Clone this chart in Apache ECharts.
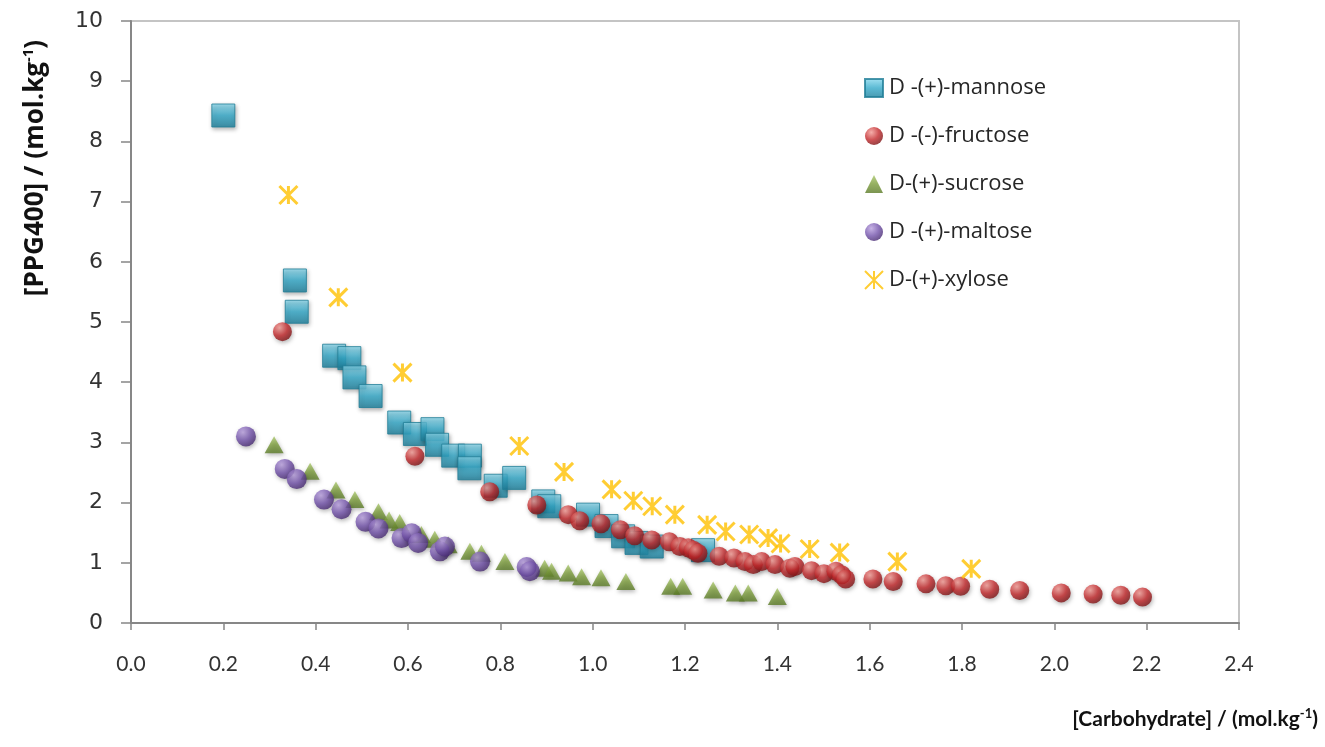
<!DOCTYPE html>
<html>
<head>
<meta charset="utf-8">
<script src="https://cdn.jsdelivr.net/npm/echarts@6/dist/echarts.min.js"></script>
<style>
  html, body { margin: 0; padding: 0; background: #fff; }
  #chart { width: 1325px; height: 747px; }
</style>
</head>
<body>
<div id="chart"></div>
<script>
// values
var seriesNames = ['D -(+)-mannose', 'D -(-)-fructose', 'D-(+)-sucrose', 'D -(+)-maltose', 'D-(+)-xylose'];

var mannoseX = [0.200, 0.355, 0.359, 0.440, 0.473, 0.484, 0.519, 0.581, 0.615, 0.653, 0.663, 0.698, 0.734, 0.733, 0.790, 0.830, 0.893, 0.906, 0.990, 1.030, 1.066, 1.095, 1.128, 1.239];
var mannoseY = [8.43, 5.69, 5.17, 4.44, 4.40, 4.08, 3.77, 3.33, 3.14, 3.22, 2.96, 2.78, 2.78, 2.57, 2.28, 2.41, 2.02, 1.94, 1.80, 1.61, 1.44, 1.33, 1.27, 1.21];

var fructoseX = [0.328, 0.615, 0.777, 0.879, 0.947, 0.972, 1.018, 1.060, 1.091, 1.128, 1.166, 1.189, 1.207, 1.218, 1.228, 1.274, 1.306, 1.330, 1.348, 1.366, 1.395, 1.427, 1.438, 1.474, 1.501, 1.527, 1.539, 1.548, 1.607, 1.651, 1.722, 1.765, 1.797, 1.860, 1.925, 2.015, 2.084, 2.144, 2.191];
var fructoseY = [4.84, 2.77, 2.18, 1.96, 1.80, 1.70, 1.65, 1.55, 1.45, 1.38, 1.35, 1.27, 1.25, 1.21, 1.16, 1.11, 1.08, 1.02, 0.97, 1.02, 0.97, 0.91, 0.94, 0.87, 0.82, 0.86, 0.80, 0.73, 0.73, 0.69, 0.65, 0.62, 0.61, 0.56, 0.54, 0.50, 0.48, 0.46, 0.43];

var sucroseX = [0.310, 0.388, 0.444, 0.485, 0.536, 0.559, 0.582, 0.629, 0.658, 0.687, 0.734, 0.759, 0.810, 0.896, 0.911, 0.947, 0.976, 1.018, 1.072, 1.169, 1.195, 1.261, 1.309, 1.337, 1.400];
var sucroseY = [2.96, 2.52, 2.21, 2.05, 1.85, 1.71, 1.67, 1.47, 1.39, 1.30, 1.19, 1.16, 1.02, 0.91, 0.86, 0.83, 0.77, 0.75, 0.69, 0.61, 0.61, 0.55, 0.50, 0.50, 0.44];

var maltoseX = [0.249, 0.333, 0.359, 0.418, 0.456, 0.508, 0.536, 0.586, 0.608, 0.622, 0.669, 0.680, 0.756, 0.857, 0.864];
var maltoseY = [3.10, 2.56, 2.39, 2.05, 1.89, 1.68, 1.57, 1.41, 1.49, 1.33, 1.19, 1.27, 1.02, 0.93, 0.86];

var xyloseX = [0.341, 0.449, 0.588, 0.841, 0.938, 1.041, 1.088, 1.129, 1.178, 1.248, 1.288, 1.339, 1.380, 1.407, 1.470, 1.535, 1.660, 1.820];
var xyloseY = [7.11, 5.41, 4.16, 2.94, 2.51, 2.22, 2.03, 1.94, 1.80, 1.63, 1.52, 1.47, 1.41, 1.32, 1.23, 1.17, 1.02, 0.90];

var xTicks = ['0.0', '0.2', '0.4', '0.6', '0.8', '1.0', '1.2', '1.4', '1.6', '1.8', '2.0', '2.2', '2.4'];

function pairs(xs, ys) {
    return xs.map(function(x, i) { return [x, ys[i]]; });
}

function radial(c0, c1, c2) {
    return new echarts.graphic.RadialGradient(0.35, 0.3, 0.75, [
        { offset: 0, color: c0 }, { offset: 0.55, color: c1 }, { offset: 1, color: c2 }
    ]);
}

function linear(c0, c1, c2) {
    return new echarts.graphic.LinearGradient(0, 0, 0, 1, [
        { offset: 0, color: c0 }, { offset: 0.5, color: c1 }, { offset: 1, color: c2 }
    ]);
}

var shadow = { shadowBlur: 4, shadowColor: 'rgba(0,0,0,0.35)', shadowOffsetX: 1, shadowOffsetY: 2 };

var chart = echarts.init(document.getElementById('chart'));

chart.setOption({
    animation: false,
    backgroundColor: '#fff',
    grid: {
        left: 131, right: 86, top: 21, bottom: 124,
        show: true, borderColor: '#c4c4c4', borderWidth: 2
    },
    legend: {
        orient: 'vertical',
        left: 864, top: 77, padding: 0,
        itemWidth: 18, itemHeight: 18, itemGap: 26,
        textStyle: { fontFamily: 'Open Sans', fontSize: 22, color: '#262626', padding: [0, 0, 0, 1] },
        data: seriesNames
    },
    xAxis: {
        type: 'value', min: 0, max: 2.4, interval: 0.2,
        axisLine: { lineStyle: { color: '#878787', width: 2 } },
        axisTick: { show: true, length: 7, lineStyle: { color: '#878787', width: 1.5 } },
        splitLine: { show: false },
        axisLabel: {
            margin: 31,
            fontFamily: 'Lato', fontSize: 21, color: '#333',
            formatter: function(v) { return xTicks[Math.round(v / 0.2)]; }
        }
    },
    yAxis: {
        type: 'value', min: 0, max: 10, interval: 1,
        axisLine: { show: true, lineStyle: { color: '#878787', width: 2 } },
        axisTick: { show: true, length: 10, lineStyle: { color: '#878787', width: 1.5 } },
        splitLine: { show: false },
        axisLabel: { margin: 28, fontFamily: 'DejaVu Sans', fontSize: 22, color: '#333' }
    },
    graphic: [
        {
            type: 'text', x: 36, y: 168, rotation: Math.PI / 2,
            style: {
                text: '[PPG400] / (mol.kg{s|-1})',
                rich: { s: { fontSize: 15, fontWeight: 'bold', fontFamily: 'Open Sans', padding: [0, 0, 14, 0] } },
                font: 'bold 26px "Open Sans"', fill: '#111',
                align: 'center', verticalAlign: 'middle'
            }
        },
        {
            type: 'text', x: 1318, y: 719,
            style: {
                text: '[Carbohydrate] / (mol.kg{s|-1})',
                rich: { s: { fontSize: 13, fontWeight: 'bold', fontFamily: 'Lato', padding: [0, 0, 11, 0] } },
                font: 'bold 21px "Lato"', fill: '#111',
                align: 'right', verticalAlign: 'middle'
            }
        }
    ],
    series: [
        {
            name: seriesNames[0], type: 'scatter', symbol: 'rect', symbolSize: 23,
            data: pairs(mannoseX, mannoseY),
            itemStyle: Object.assign({ color: linear('#8fdcf0', '#33a9c9', '#1c7f9b'), borderColor: '#1f7d96', borderWidth: 1 }, shadow)
        },
        {
            name: seriesNames[1], type: 'scatter', symbol: 'circle', symbolSize: 19,
            data: pairs(fructoseX, fructoseY),
            itemStyle: Object.assign({ color: radial('#f29a94', '#c3282b', '#7a1214') }, shadow)
        },
        {
            name: seriesNames[2], type: 'scatter', symbol: 'triangle', symbolSize: [19, 17],
            data: pairs(sucroseX, sucroseY),
            itemStyle: Object.assign({ color: linear('#a9c76a', '#7b9c3b', '#5a7a26') }, shadow)
        },
        {
            name: seriesNames[3], type: 'scatter', symbol: 'circle', symbolSize: 20,
            data: pairs(maltoseX, maltoseY),
            itemStyle: Object.assign({ color: radial('#b9a0df', '#7353ab', '#45286f') }, shadow)
        },
        {
            name: seriesNames[4], type: 'scatter',
            symbol: 'path://M0,0L18,18M18,0L0,18M9,0L9,18', symbolSize: 18,
            data: pairs(xyloseX, xyloseY),
            itemStyle: { color: '#ffc000', borderColor: '#ffc000', borderWidth: 3 }
        }
    ]
});
</script>
</body>
</html>
